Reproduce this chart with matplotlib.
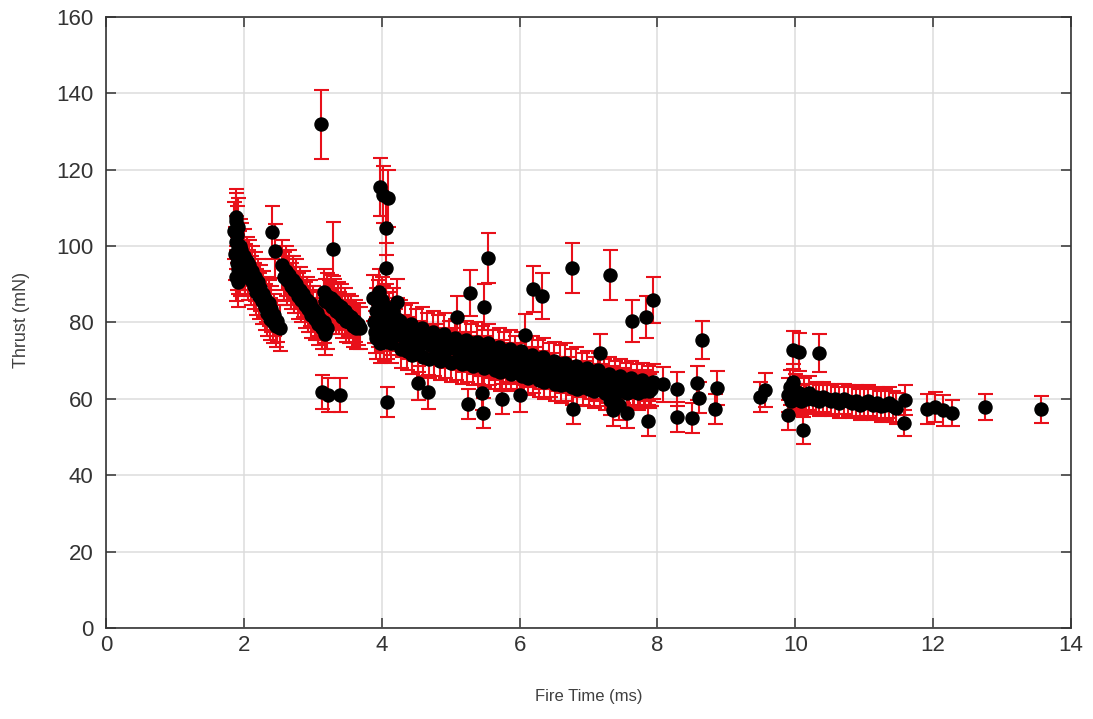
import numpy as np
import matplotlib
matplotlib.use('Agg')
import matplotlib.pyplot as plt

plt.rcParams['font.family'] = ['Liberation Sans', 'DejaVu Sans']

# cluster at ~1.9 ms
c1_x = [1.86, 1.87, 1.88, 1.88, 1.89, 1.90, 1.90, 1.91, 1.92, 1.92, 1.93, 1.94, 1.95, 1.89, 1.91]
c1_y = [104, 98, 106.5, 92, 101, 95.5, 103, 99, 90.5, 105, 97, 93.5, 100, 107.5, 94]
c1_e = [7.5, 7, 7.5, 6.5, 7, 7, 7.5, 7, 6.5, 7.5, 7, 6.5, 7, 7.5, 6.5]

# first descending streak (2.0 - 2.5 ms)
b1_x = [1.96, 2.00, 2.04, 2.08, 2.12, 2.16, 2.20, 2.24, 2.28, 2.32, 2.36, 2.40, 2.44, 2.48,
        1.98, 2.02, 2.06, 2.10, 2.14, 2.18, 2.22, 2.26, 2.30, 2.34, 2.38, 2.42, 2.46]
b1_y = [99, 97.5, 96, 95, 93.5, 92, 90.5, 89, 87.5, 86, 85, 83.5, 82, 80.5,
        95, 94, 92.5, 91, 89.5, 88, 87, 85.5, 84, 82.5, 81, 80, 79]
b1_e = [7, 7, 6.5, 6.5, 6.5, 6.5, 6, 6, 6, 6, 6, 6, 5.5, 5.5,
        6.5, 6.5, 6.5, 6.5, 6, 6, 6, 6, 6, 6, 5.5, 5.5, 5.5]

# second streak (2.55 - 3.2 ms)
b2_x = [2.56, 2.61, 2.66, 2.71, 2.76, 2.81, 2.86, 2.91, 2.96, 3.01, 3.06, 3.11, 3.16, 3.21,
        2.58, 2.63, 2.68, 2.73, 2.78, 2.83, 2.88, 2.93, 2.98, 3.03, 3.08, 3.13, 3.18]
b2_y = [95, 93.5, 92.5, 91, 90, 88.5, 87.5, 86, 85, 83.5, 82.5, 81, 80, 78.5,
        92, 91, 89.5, 88.5, 87, 86, 84.5, 83.5, 82, 81, 79.5, 78.5, 77]
b2_e = [6.5, 6.5, 6.5, 6.5, 6.5, 6, 6, 6, 6, 6, 6, 5.5, 5.5, 5.5,
        6.5, 6.5, 6, 6, 6, 6, 6, 6, 6, 5.5, 5.5, 5.5, 5.5]

# third streak (3.15 - 3.7 ms)
b3_x = [3.16, 3.21, 3.26, 3.31, 3.36, 3.41, 3.46, 3.51, 3.56, 3.61, 3.66,
        3.18, 3.23, 3.28, 3.33, 3.38, 3.43, 3.48, 3.53, 3.58, 3.63, 3.68]
b3_y = [88, 87, 86.5, 85.5, 84.5, 84, 83, 82, 81.5, 80.5, 79.5,
        85.5, 85, 84, 83, 82.5, 81.5, 80.5, 80, 79, 78.5, 78.5]
b3_e = [6, 6, 6, 6, 6, 6, 6, 5.5, 5.5, 5.5, 5.5,
        6, 6, 6, 6, 5.5, 5.5, 5.5, 5.5, 5.5, 5.5, 5.5]

# cluster at ~4 ms
c4_x = [3.88, 3.89, 3.91, 3.92, 3.94, 3.95, 3.97, 3.98, 4.00, 4.01, 4.03, 4.04, 4.06,
        4.08, 4.10, 4.12, 4.14, 4.16, 4.19, 4.22, 4.25, 3.90, 3.96, 4.02, 4.07, 4.13]
c4_y = [86.5, 80, 83, 76, 85, 79, 82, 74.5, 78, 86, 81, 75, 84,
        79, 82, 77, 80, 83, 78, 81, 79, 77.5, 88, 83.5, 76, 74.5]
c4_e = [6, 5.5, 6, 5.5, 6, 5.5, 6, 5, 5.5, 6, 5.5, 5, 6,
        5.5, 6, 5.5, 5.5, 6, 5.5, 5.5, 5.5, 5.5, 6, 6, 5.5, 5]

# main band 4.2 - 8 ms (upper, middle, lower rows)
bu_x = [4.26, 4.34, 4.42, 4.50, 4.58, 4.66, 4.74, 4.82, 4.90, 4.98, 5.06, 5.14, 5.22, 5.30,
        5.38, 5.46, 5.54, 5.62, 5.70, 5.78, 5.86, 5.94, 6.02, 6.10, 6.18, 6.26, 6.34, 6.42,
        6.50, 6.58, 6.66, 6.74, 6.82, 6.90, 6.98, 7.06, 7.14, 7.22, 7.30, 7.38, 7.46, 7.54,
        7.62, 7.70, 7.78, 7.86, 7.94]
bu_y = [80.5, 79, 79.5, 78, 78.5, 77, 77.5, 76.5, 77, 75.5, 76, 75, 75.5, 74.5,
        75, 74, 74.5, 73, 73.5, 72.5, 73, 71.5, 72.5, 71, 71.5, 70.5, 71, 69.5,
        70, 69, 69.5, 68, 68.5, 67.5, 68, 66.5, 67.5, 66, 66.5, 65.5, 66, 65,
        65.5, 64.5, 65, 64, 64.5]
bu_e = [5.5, 5.5, 5.5, 5.5, 5.5, 5.5, 5.5, 5.5, 5.5, 5, 5, 5, 5, 5,
        5, 5, 5, 5, 5, 5, 5, 5, 5, 5, 5, 5, 5, 5,
        5, 5, 5, 5, 5, 4.5, 4.5, 4.5, 4.5, 4.5, 4.5, 4.5, 4.5, 4.5,
        4.5, 4.5, 4.5, 4.5, 4.5]

bm_x = [4.30, 4.38, 4.46, 4.54, 4.62, 4.70, 4.78, 4.86, 4.94, 5.02, 5.10, 5.18, 5.26, 5.34,
        5.42, 5.50, 5.58, 5.66, 5.74, 5.82, 5.90, 5.98, 6.06, 6.14, 6.22, 6.30, 6.38, 6.46,
        6.54, 6.62, 6.70, 6.78, 6.86, 6.94, 7.02, 7.10, 7.18, 7.26, 7.34, 7.42, 7.50, 7.58,
        7.66, 7.74, 7.82, 7.90]
bm_y = [76.5, 76, 75, 75.5, 74.5, 74, 74.5, 73.5, 73, 73.5, 72.5, 72, 72.5, 71.5,
        71, 71.5, 70.5, 70, 70.5, 69.5, 69, 69.5, 68.5, 68, 68.5, 67.5, 67, 67.5,
        66.5, 66, 66.5, 65.5, 65, 65.5, 64.5, 64, 64.5, 63.5, 64, 63, 63.5, 62.5,
        63, 62.5, 63, 62.5]
bm_e = [5.5, 5.5, 5, 5, 5, 5, 5, 5, 5, 5, 5, 5, 5, 5,
        5, 5, 5, 5, 5, 5, 5, 5, 5, 5, 5, 5, 4.5, 4.5,
        4.5, 4.5, 4.5, 4.5, 4.5, 4.5, 4.5, 4.5, 4.5, 4.5, 4.5, 4.5, 4.5, 4.5,
        4.5, 4.5, 4.5, 4.5]

bl_x = [4.28, 4.36, 4.44, 4.52, 4.60, 4.68, 4.76, 4.84, 4.92, 5.00, 5.08, 5.16, 5.24, 5.32,
        5.40, 5.48, 5.56, 5.64, 5.72, 5.80, 5.88, 5.96, 6.04, 6.12, 6.20, 6.28, 6.36, 6.44,
        6.52, 6.60, 6.68, 6.76, 6.84, 6.92, 7.00, 7.08, 7.16, 7.24, 7.32, 7.40, 7.48, 7.56,
        7.64, 7.72, 7.80, 7.88]
bl_y = [73, 72.5, 71.5, 72, 71, 70.5, 71, 70, 70.5, 69.5, 70, 69, 69.5, 68.5,
        69, 68, 68.5, 67.5, 67, 67.5, 66.5, 67, 66, 65.5, 66, 65, 64.5, 65,
        64, 63.5, 64, 63, 62.5, 63, 62.5, 62, 62.5, 61.5, 62, 61.5, 62, 61.5,
        62, 61.5, 62, 62]
bl_e = [5, 5, 5, 5, 5, 5, 5, 5, 5, 5, 5, 5, 5, 5,
        5, 5, 5, 5, 5, 5, 4.5, 4.5, 4.5, 4.5, 4.5, 4.5, 4.5, 4.5,
        4.5, 4.5, 4.5, 4.5, 4.5, 4.5, 4.5, 4.5, 4.5, 4.5, 4.5, 4.5, 4.5, 4.5,
        4.5, 4.5, 4.5, 4.5]

# band at ~10 - 11.5 ms
b10_x = [9.90, 9.92, 9.94, 9.97, 9.99, 10.02, 10.05, 10.08, 10.12, 10.16, 10.20, 10.25,
         10.30, 10.35, 10.40, 10.46, 10.52, 10.58, 10.64, 10.70, 10.76, 10.82, 10.88,
         10.94, 11.00, 11.06, 11.12, 11.18, 11.24, 11.30, 11.36, 11.42, 11.46]
b10_y = [61, 63, 59.5, 64.5, 62, 60, 61.5, 59.5, 61, 60, 61.5, 60,
         60.5, 59.5, 60.5, 60, 59.5, 60, 59, 60, 59.5, 59, 59.5,
         58.5, 59, 59.5, 58.5, 59, 58, 58.5, 59, 58, 57.5]
b10_e = [4.5, 4.5, 4, 4.5, 4.5, 4, 4.5, 4, 4.5, 4, 4.5, 4,
         4, 4, 4, 4, 4, 4, 4, 4, 4, 4, 4,
         4, 4, 4, 4, 4, 4, 4, 4, 4, 4]

# isolated shots
iso_x = [3.12, 3.97, 4.02, 4.09, 4.06, 4.06, 2.41, 2.45, 3.30, 2.52, 3.13, 3.22, 3.40, 4.08,
         4.53, 4.67, 4.22, 5.09, 5.28, 5.48, 5.54, 5.25, 5.45, 5.47, 5.74, 6.00, 6.19, 6.33,
         6.76, 7.31, 6.08, 7.17, 6.77, 7.36, 7.56, 7.86, 7.31, 7.44, 7.63, 7.84, 7.93, 8.08,
         8.28, 8.28, 8.50, 8.57, 8.60, 8.86, 8.84, 8.65, 9.49, 9.56, 9.96, 10.05, 10.35,
         9.90, 10.11, 11.59, 11.58, 11.91, 12.03, 12.14, 12.27, 12.75, 13.56]
iso_y = [131.9, 115.5, 113.5, 112.5, 104.7, 94.2, 103.6, 98.7, 99.2, 78.5, 61.8, 61.0, 61.0, 59.2,
         64.1, 61.8, 85.3, 81.4, 87.7, 84.0, 96.8, 58.6, 61.5, 56.3, 60.0, 61.0, 88.7, 86.9,
         94.2, 92.4, 76.7, 72.0, 57.4, 57.0, 56.3, 54.3, 59.7, 58.5, 80.3, 81.4, 85.8, 63.8,
         62.5, 55.3, 55.0, 64.2, 60.3, 62.8, 57.3, 75.5, 60.5, 62.3, 72.8, 72.3, 72.0,
         55.8, 51.8, 59.7, 53.7, 57.3, 57.9, 57.0, 56.3, 57.9, 57.3]
iso_e = [9.0, 7.5, 7.5, 7.5, 7.0, 6.5, 7.0, 7.0, 7.0, 6.0, 4.5, 4.5, 4.5, 4.0,
         4.5, 4.5, 6.0, 5.5, 6.0, 6.0, 6.5, 4.0, 4.5, 4.0, 4.0, 4.5, 6.0, 6.0,
         6.5, 6.5, 5.5, 5.0, 4.0, 4.0, 4.0, 4.0, 4.0, 4.0, 5.5, 5.5, 6.0, 4.5,
         4.5, 4.0, 4.0, 4.5, 4.0, 4.5, 4.0, 5.0, 4.0, 4.5, 5.0, 5.0, 5.0,
         4.0, 3.5, 4.0, 3.5, 4.0, 4.0, 4.0, 3.5, 3.5, 3.5]

fire_time = np.concatenate([c1_x, b1_x, b2_x, b3_x, c4_x, bu_x, bm_x, bl_x, b10_x, iso_x])
thrust = np.concatenate([c1_y, b1_y, b2_y, b3_y, c4_y, bu_y, bm_y, bl_y, b10_y, iso_y])
thrust_err = np.concatenate([c1_e, b1_e, b2_e, b3_e, c4_e, bu_e, bm_e, bl_e, b10_e, iso_e])

fig = plt.figure(figsize=(10.93, 7.19), dpi=100)
ax = fig.add_axes([0.097, 0.1266, 0.8829, 0.8498])

ax.errorbar(fire_time, thrust, yerr=thrust_err, fmt='o', color='black', ms=9.4,
            ecolor='#e8101a', elinewidth=1.5, capsize=5.4, capthick=1.5)

ax.set_xlim(0, 14)
ax.set_ylim(0, 160)
ax.set_xticks(range(0, 15, 2))
ax.set_yticks(range(0, 161, 20))
ax.grid(True, color='#dcdcdc', lw=1.1)
ax.set_axisbelow(True)
for s in ax.spines.values():
    s.set_color('#333333')
    s.set_linewidth(1.2)
ax.tick_params(direction='in', length=7, width=1.1, top=True, right=True,
               labelsize=16, colors='#333333')
ax.tick_params(axis='y', pad=9)
ax.tick_params(axis='x', pad=5)

ax.set_xlabel('Fire Time (ms)', fontsize=12, color='#404040')
ax.set_ylabel('Thrust (mN)', fontsize=13, color='#404040')
ax.xaxis.set_label_coords(0.5, -0.1)
ax.yaxis.set_label_coords(-0.079, 0.504)

fig.savefig('out.png', dpi=100)
